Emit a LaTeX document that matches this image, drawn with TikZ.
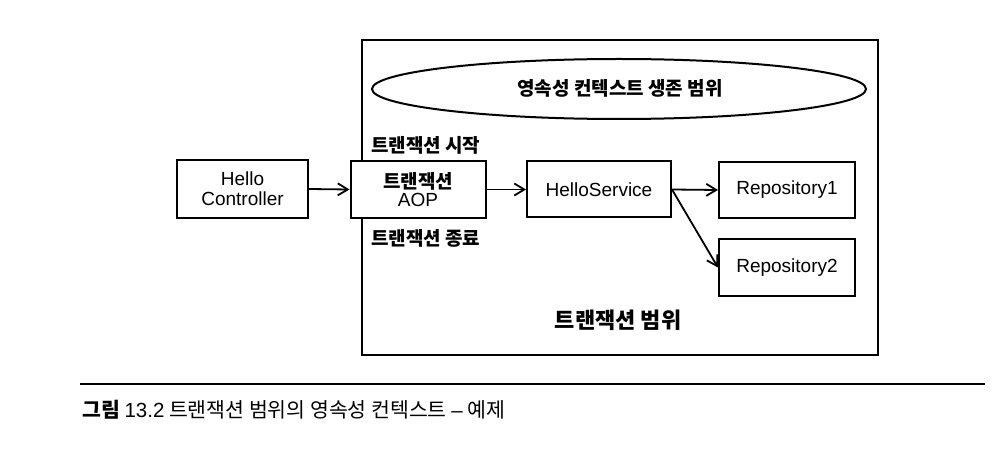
\documentclass[tikz,border=0pt]{standalone}
\usepackage{fontspec}
\setmainfont{Liberation Sans}
\newfontfamily\kr{Noto Sans CJK KR}
\usetikzlibrary{arrows.meta,shapes.geometric}
\begin{document}
\begin{tikzpicture}[x=1pt,y=-1pt,
  box/.style={draw, fill=white, line width=2pt, inner sep=0pt, align=center, font=\fontsize{19}{22}\selectfont},
  arr/.style={line width=1.8pt, -{Straight Barb[length=10pt,width=12pt,line width=1.8pt]}},
  krlab/.style={font=\kr\bfseries\fontsize{19}{22}\selectfont, inner sep=0pt}]
\useasboundingbox (0,0) rectangle (996,449);
% outer transaction box
\node[draw, line width=2.4pt, minimum width=516pt, minimum height=315pt, inner sep=0pt] (scope) at (620,197.5) {};
% persistence context ellipse
\node[draw, ellipse, line width=2pt, minimum width=494pt, minimum height=60pt, inner sep=0pt] (pc) at (619,89) {};
\node[krlab] (pct) at (620,88) {영속성 컨텍스트 생존 범위};
% boxes
\node[box, minimum width=131pt, minimum height=58pt] (hc) at (242.5,189) {Hello\\[-2pt]Controller};
\node[box, minimum width=135pt, minimum height=57pt] (aop) at (418,189.5) {{\kr\bfseries 트랜잭션}\\[-4pt]AOP};
\node[box, minimum width=144pt, minimum height=56pt] (hs) at (599,189.5) {HelloService};
\node[box, minimum width=136pt, minimum height=56pt] (r1) at (787,190) {Repository1};
\node[box, minimum width=136pt, minimum height=57pt] (r2) at (787,267.5) {Repository2};
% labels
\node[krlab, anchor=west] (start) at (371,145) {트랜잭션 시작};
\node[krlab, anchor=west] (end) at (371,238) {트랜잭션 종료};
\node[krlab, font=\kr\bfseries\fontsize{22}{25}\selectfont] (tscope) at (618,320) {트랜잭션 범위};
% arrows
\draw[arr] (hc.east) -- (aop.west);
\draw[arr] (aop.east) -- (hs.west);
\draw[arr] (hs.east) -- (r1.west);
\draw[arr] (hs.east) -- (r2.west);
% caption
\coordinate (la) at (80,384);
\coordinate (lb) at (985,384);
\draw[line width=1.6pt] (la) -- (lb);
\node[anchor=west, inner sep=0pt, font=\kr\fontsize{20.5}{23}\selectfont] (cap) at (82,410) {{\bfseries 그림} {\rmfamily 13.2} 트랜잭션 범위의 영속성 컨텍스트 {\rmfamily –} 예제};
\end{tikzpicture}
\end{document}
